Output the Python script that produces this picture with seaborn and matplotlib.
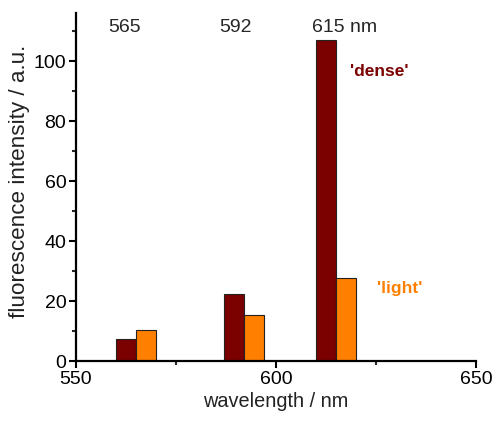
import numpy as np
import pandas as pd
import matplotlib
matplotlib.use("Agg")
import matplotlib.pyplot as plt
import seaborn as sns
from matplotlib.ticker import MultipleLocator

# Emission peaks and their intensities for the two fractions
peaks = [565, 592, 615]
dense = [7.4, 22.3, 106.9]
light = [10.3, 15.4, 27.8]
series = ["dense", "light"]
colors = {"dense": "#7B0000", "light": "#FF8000"}

df = pd.DataFrame({
    "wavelength": peaks * 2,
    "intensity": dense + light,
    "sample": ["dense"] * len(peaks) + ["light"] * len(peaks),
})

sns.set_style("ticks")
plt.rcParams["font.family"] = ["Liberation Sans", "DejaVu Sans"]
plt.rcParams["font.size"] = 14

fig = plt.figure(figsize=(4.94, 4.21), dpi=100)
ax = fig.add_axes([76 / 494, 1 - 361 / 421, 400 / 494, 348 / 421])

# 5 nm wide bars per fraction; peaks are spaced at least 23 nm apart
sns.barplot(data=df, x="wavelength", y="intensity", hue="sample",
            hue_order=series, palette=colors, native_scale=True,
            width=10 / 23, dodge=True, edgecolor="#222222", linewidth=0.8,
            saturation=1, legend=False, ax=ax)

ax.set_xlim(550, 650)
ax.set_ylim(0, 116)
ax.xaxis.set_major_locator(MultipleLocator(50))
ax.xaxis.set_minor_locator(MultipleLocator(25))
ax.yaxis.set_major_locator(MultipleLocator(20))
ax.yaxis.set_minor_locator(MultipleLocator(10))
ax.tick_params(which="major", length=5, width=1.5, labelsize=14, colors="black",
               pad=2)
ax.tick_params(which="minor", length=3, width=1.5)
for side in ("top", "right"):
    ax.spines[side].set_visible(False)
for side in ("left", "bottom"):
    ax.spines[side].set_linewidth(1.6)
    ax.spines[side].set_color("black")

ax.set_xlabel("wavelength / nm", fontsize=14.3, color="#222222", labelpad=3)
ax.set_ylabel("fluorescence intensity / a.u.", fontsize=16.2, color="#222222")
ax.yaxis.set_label_coords(-0.115, 0.516)

# Peak labels above the bars
ax.text(peaks[0] - 2.75, 111, "565", ha="center", va="center", fontsize=14)
ax.text(peaks[1] - 2.25, 111, "592", ha="center", va="center", fontsize=14)
ax.text(peaks[2] - 6, 111, "615 nm", ha="left", va="center", fontsize=14)

ax.text(618.5, 96.5, "'dense'", color=colors["dense"], fontsize=12.5,
        fontweight="bold", va="center", ha="left")
ax.text(625.3, 24.3, "'light'", color=colors["light"], fontsize=12.5,
        fontweight="bold", va="center", ha="left")

fig.savefig("out.png", dpi=100)
